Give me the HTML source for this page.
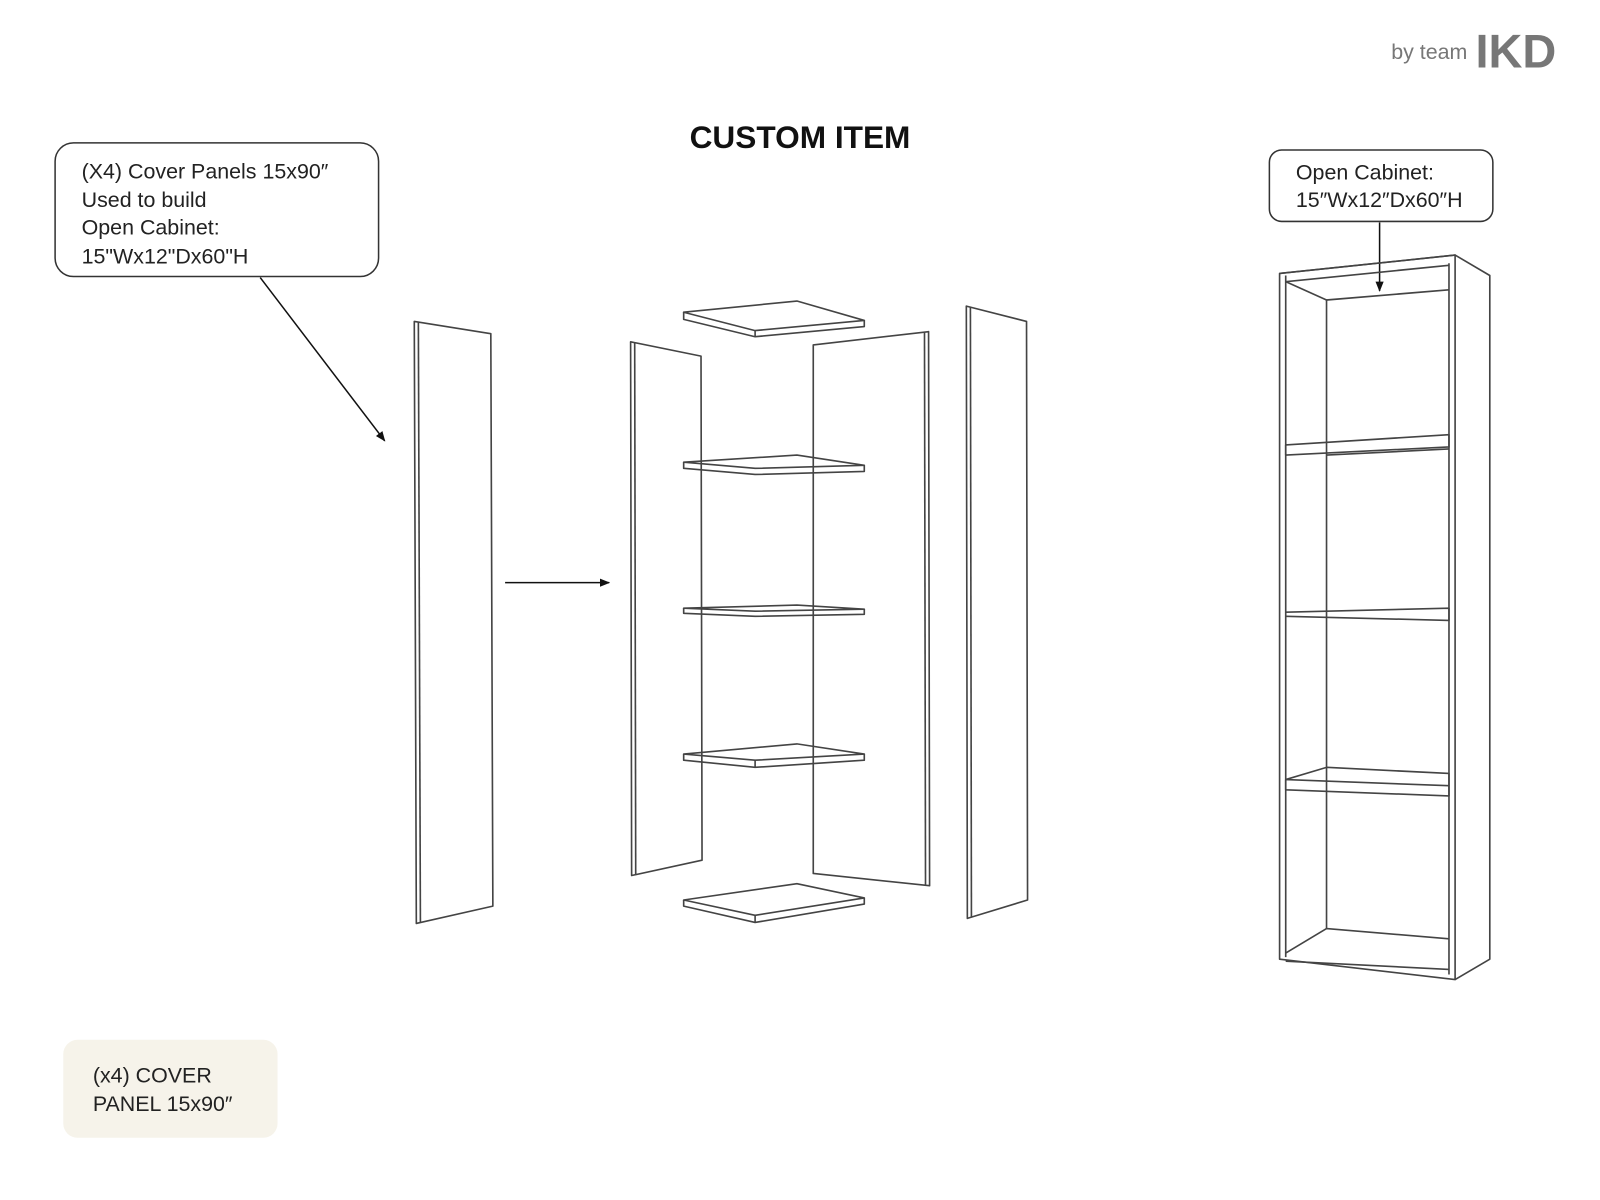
<!DOCTYPE html>
<html><head><style>
html,body{margin:0;padding:0;background:#fff;}
svg{display:block;}
text{font-family:"Liberation Sans",sans-serif;fill:#222;}
</style></head><body>
<svg width="1600" height="1200" viewBox="0 0 1568 1176" xmlns="http://www.w3.org/2000/svg">
<defs><marker id="ah" markerWidth="10" markerHeight="10" refX="9" refY="5" orient="auto" markerUnits="userSpaceOnUse"><path d="M0,1 L10,5 L0,9 z" fill="#111"/></marker></defs>
<text x="1438" y="58" font-size="21" text-anchor="end" style="fill:#777">by team</text>
<text x="1446" y="66" font-size="46" font-weight="bold" style="fill:#777">IKD</text>
<text x="784" y="145" font-size="31" font-weight="bold" text-anchor="middle" style="fill:#111">CUSTOM ITEM</text>
<rect x="54" y="140" width="317" height="131" rx="18" fill="#fff" stroke="#333" stroke-width="1.5"/>
<g font-size="21"><text x="80" y="175">(X4) Cover Panels 15x90″</text><text x="80" y="203">Used to build</text><text x="80" y="230">Open Cabinet:</text><text x="80" y="258">15"Wx12"Dx60"H</text></g>
<line x1="255" y1="272" x2="377" y2="432" stroke="#111" stroke-width="1.5" marker-end="url(#ah)"/>
<rect x="1244" y="147" width="219" height="70" rx="12" fill="#fff" stroke="#333" stroke-width="1.5"/>
<g font-size="21"><text x="1270" y="176">Open Cabinet:</text><text x="1270" y="203">15″Wx12″Dx60″H</text></g>
<line x1="1352" y1="218" x2="1352" y2="285" stroke="#111" stroke-width="1.5" marker-end="url(#ah)"/>
<line x1="495" y1="571" x2="597" y2="571" stroke="#111" stroke-width="1.5" marker-end="url(#ah)"/>
<rect x="62" y="1019" width="210" height="96" rx="14" fill="#f6f3ea"/>
<g font-size="21"><text x="91" y="1061">(x4) COVER</text><text x="91" y="1089">PANEL 15x90″</text></g>
<g fill="none" stroke="#444" stroke-width="1.6" stroke-linejoin="round">
<polygon points="406,315 481,327 483,888 408,905"/><line x1="410" y1="316" x2="412" y2="904"/>
<polygon points="618,335 687,349 688,843 619,858"/><line x1="622" y1="336" x2="623" y2="857"/>
<polygon points="797,338 910,325 911,868 797,856"/><line x1="906" y1="326" x2="907" y2="867"/>
<polygon points="947,300 1006,315 1007,882 948,900"/><line x1="951" y1="301" x2="952" y2="899"/>
<!-- top shelf -->
<polygon points="670,306 781,295 847,314 740,324"/>
<polyline points="670,306 670,313 740,330 847,320 847,314"/>
<line x1="740" y1="324" x2="740" y2="330"/>
<!-- shelf 455 -->
<polygon points="670,453 781,446 847,456 740,459"/>
<polyline points="670,453 670,459 740,465 847,462 847,456"/>
<!-- shelf 598 -->
<polygon points="670,596 781,593 847,597 740,599"/>
<polyline points="670,596 670,601 740,604 847,602 847,597"/>
<!-- shelf 740 -->
<polygon points="670,739 781,729 847,739 740,745"/>
<polyline points="670,739 670,745 740,752 847,745 847,739"/>
<line x1="740" y1="745" x2="740" y2="752"/>
<!-- bottom shelf -->
<polygon points="670,882 781,866 847,880 740,897"/>
<polyline points="670,882 670,888 740,904 847,886 847,880"/>
<line x1="740" y1="897" x2="740" y2="904"/>
<!-- right cabinet -->
<polyline points="1254,268 1426,250 1460,270 1460,940 1426,960"/>
<polygon points="1254,268 1426,250 1426,960 1254,940"/>
<line x1="1260" y1="270" x2="1260" y2="938"/>
<line x1="1420" y1="258" x2="1420" y2="955"/>
<line x1="1260" y1="276" x2="1420" y2="260"/>
<line x1="1300" y1="294" x2="1420" y2="284"/>
<line x1="1260" y1="276" x2="1300" y2="294"/>
<line x1="1300" y1="294" x2="1300" y2="910"/>
<polyline points="1260,436 1420,426 1420,438 1260,446 1260,436"/><line x1="1300" y1="446" x2="1420" y2="440"/>
<polyline points="1260,600 1420,596 1420,608 1260,604"/>
<polyline points="1260,764 1300,752 1420,758 1420,780 1260,774 1260,764"/><line x1="1260" y1="764" x2="1420" y2="770"/>
<polyline points="1260,934 1300,910 1420,920"/><line x1="1260" y1="942" x2="1420" y2="950"/>
</g>
</svg>
</body></html>
